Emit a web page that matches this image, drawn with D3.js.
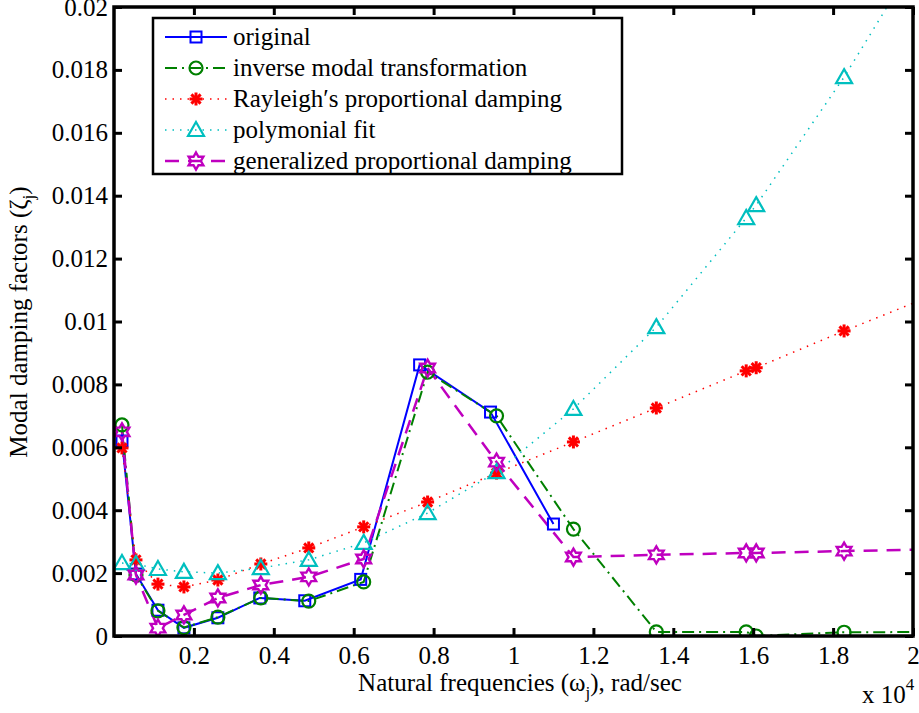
<!DOCTYPE html>
<html><head><meta charset="utf-8">
<script src="https://cdn.jsdelivr.net/npm/d3@7"></script>
<style>body{margin:0;background:#fff}svg{display:block}</style>
</head><body><svg id="c" width="919" height="713" font-family="Liberation Serif, Times New Roman, serif"></svg>
<script>
// Data (x in units of 1e4 rad/sec)
const xOriginal = [0.02,0.055,0.11,0.175,0.26,0.365,0.4775,0.6175,0.765,0.9425,1.1];
const yOriginal = [0.0062,0.00197,0.00082,0.00026,0.00058,0.00121,0.00112,0.00180,0.00862,0.00712,0.00356];
const xModes = [0.02,0.055,0.11,0.175,0.26,0.3675,0.4875,0.625,0.785,0.9575,1.15,1.3575,1.5825,1.6075,1.8275,2.2];
const yInverse = [0.00671,0.00194,0.00080,0.00027,0.00060,0.00121,0.00111,0.00172,0.00839,0.00700,0.00340,0.00013,0.00013,0.0000,0.00012,0.00013];
const yRayleigh = [0.00598,0.00242,0.00165,0.00156,0.00178,0.00229,0.00280,0.00347,0.00426,0.00518,0.00617,0.00725,0.00843,0.00853,0.00970,0.01160];
const yPoly = [0.00232,0.00229,0.00213,0.00204,0.00200,0.00216,0.00242,0.00296,0.00391,0.00521,0.00722,0.00982,0.01329,0.01370,0.01777,0.0255];
const yGeneral = [0.00649,0.00194,0.00025,0.00067,0.00121,0.00162,0.00188,0.00245,0.00852,0.00553,0.00251,0.00258,0.00264,0.00264,0.00270,0.00280];
const xTicks = [0.2,0.4,0.6,0.8,1,1.2,1.4,1.6,1.8,2];
const yTicks = [0,0.002,0.004,0.006,0.008,0.01,0.012,0.014,0.016,0.018,0.02];
const legendLabels = ["original","inverse modal transformation","Rayleigh\u2032s proportional damping","polymonial fit","generalized proportional damping"];

const FONT = "Liberation Serif, Times New Roman, serif";
const FS = 25;
const svg = d3.select("#c");
const L=114, R=913, T=7, B=636;
const x = d3.scaleLinear().domain([0,2]).range([L,R]);
const y = d3.scaleLinear().domain([0,0.02]).range([B,T]);

svg.append("defs").append("clipPath").attr("id","clip").append("rect")
  .attr("x",L).attr("y",T).attr("width",R-L).attr("height",B-T);

const series = [
  {xs:xOriginal, ys:yOriginal, color:"#0000ff", dash:null, width:2, marker:"square"},
  {xs:xModes, ys:yInverse, color:"#008000", dash:"12,5,2,5", width:2, marker:"circle"},
  {xs:xModes, ys:yRayleigh, color:"#ff0000", dash:"1.5,6", width:1.5, marker:"asterisk"},
  {xs:xModes, ys:yPoly, color:"#00bfbf", dash:"1.5,6", width:1.5, marker:"triangle"},
  {xs:xModes, ys:yGeneral, color:"#bf00bf", dash:"14,9", width:2.5, marker:"hexagram"}
];

function drawMarker(g, type, cx, cy, color){
  if(type==="square"){
    g.append("rect").attr("x",cx-5.5).attr("y",cy-5.5).attr("width",11).attr("height",11)
     .attr("fill","none").attr("stroke",color).attr("stroke-width",2);
  } else if(type==="circle"){
    g.append("circle").attr("cx",cx).attr("cy",cy).attr("r",6.5)
     .attr("fill","none").attr("stroke",color).attr("stroke-width",2.2);
  } else if(type==="asterisk"){
    const r=6.5;
    for(let k=0;k<4;k++){
      const a=k*Math.PI/4;
      g.append("line").attr("x1",cx-r*Math.cos(a)).attr("y1",cy-r*Math.sin(a))
       .attr("x2",cx+r*Math.cos(a)).attr("y2",cy+r*Math.sin(a))
       .attr("stroke",color).attr("stroke-width",3);
    }
  } else if(type==="triangle"){
    const s=8;
    g.append("path").attr("d",`M${cx},${cy-s}L${cx+s},${cy+s*0.75}L${cx-s},${cy+s*0.75}Z`)
     .attr("fill","none").attr("stroke",color).attr("stroke-width",2.2);
  } else if(type==="hexagram"){
    const Ro=8.5, Ri=Ro/Math.sqrt(3);
    const pts=[];
    for(let k=0;k<12;k++){
      const a=-Math.PI/2 + k*Math.PI/6;
      const rr = k%2===0?Ro:Ri;
      pts.push([cx+rr*Math.cos(a), cy+rr*Math.sin(a)]);
    }
    g.append("path").attr("d","M"+pts.map(p=>p.join(",")).join("L")+"Z")
     .attr("fill","none").attr("stroke",color).attr("stroke-width",2.4);
  }
}

const plot = svg.append("g").attr("clip-path","url(#clip)");
series.forEach(s=>{
  const pts = s.xs.map((v,i)=>[v,s.ys[i]]);
  plot.append("path").datum(pts)
    .attr("d", d3.line().x(d=>x(d[0])).y(d=>y(d[1])))
    .attr("fill","none").attr("stroke",s.color).attr("stroke-width",s.width)
    .attr("stroke-dasharray",s.dash);
});
series.forEach(s=>{
  const mg = plot.append("g");
  s.xs.forEach((v,i)=>drawMarker(mg, s.marker, x(v), y(s.ys[i]), s.color));
});

// Axes (ticks inward, box)
const tl=8;
const ax = svg.append("g");
const fmtY = d=> d===0?"0":String(+d.toFixed(3));
ax.append("g").attr("transform",`translate(0,${B})`)
  .call(d3.axisBottom(x).tickValues(xTicks).tickSize(-tl).tickPadding(10).tickFormat(d=>String(d)));
ax.append("g").attr("transform",`translate(0,${T})`)
  .call(d3.axisTop(x).tickValues(xTicks).tickSize(-tl).tickFormat(""));
ax.append("g").attr("transform",`translate(${L},0)`)
  .call(d3.axisLeft(y).tickValues(yTicks).tickSize(-tl).tickPadding(6).tickFormat(fmtY));
ax.append("g").attr("transform",`translate(${R},0)`)
  .call(d3.axisRight(y).tickValues(yTicks).tickSize(-tl).tickFormat(""));
ax.selectAll(".domain").remove();
ax.selectAll(".tick line").attr("stroke","#000").attr("stroke-width",3);
ax.selectAll(".tick text").attr("font-size",FS).attr("fill","#000").attr("font-family",FONT);
svg.append("rect").attr("x",L).attr("y",T).attr("width",R-L).attr("height",B-T)
  .attr("fill","none").attr("stroke","#000").attr("stroke-width",3.5);

// Axis labels
const xl = svg.append("text").attr("x",520).attr("y",691).attr("text-anchor","middle")
  .attr("font-size",FS).attr("font-family",FONT).attr("fill","#000");
xl.append("tspan").text("Natural frequencies (\u03c9");
xl.append("tspan").attr("font-size",17).attr("dy",7).text("j");
xl.append("tspan").attr("dy",-7).text("), rad/sec");

const yl = svg.append("text").attr("transform","translate(27,322) rotate(-90)")
  .attr("text-anchor","middle").attr("font-size",FS).attr("font-family",FONT).attr("fill","#000");
yl.append("tspan").text("Modal damping factors (\u03b6");
yl.append("tspan").attr("font-size",17).attr("dy",7).text("j");
yl.append("tspan").attr("dy",-7).text(")");

const ex = svg.append("text").attr("x",862).attr("y",703).attr("font-size",FS)
  .attr("font-family",FONT).attr("fill","#000");
ex.append("tspan").text("x 10");
ex.append("tspan").attr("font-size",17).attr("dy",-13).text("4");

// Legend
const lg = svg.append("g");
lg.append("rect").attr("x",153).attr("y",18).attr("width",469).attr("height",156)
  .attr("fill","#fff").attr("stroke","#000").attr("stroke-width",2.5);
series.forEach((s,i)=>{
  const cy = 37 + i*31;
  lg.append("line").attr("x1",165).attr("x2",227).attr("y1",cy).attr("y2",cy)
    .attr("stroke",s.color).attr("stroke-width",s.width).attr("stroke-dasharray",s.dash);
  drawMarker(lg, s.marker, 196, cy, s.color);
  lg.append("text").attr("x",233).attr("y",cy).attr("dy","0.32em")
    .attr("font-size",FS).attr("font-family",FONT).attr("fill","#000").text(legendLabels[i]);
});
</script></body></html>
